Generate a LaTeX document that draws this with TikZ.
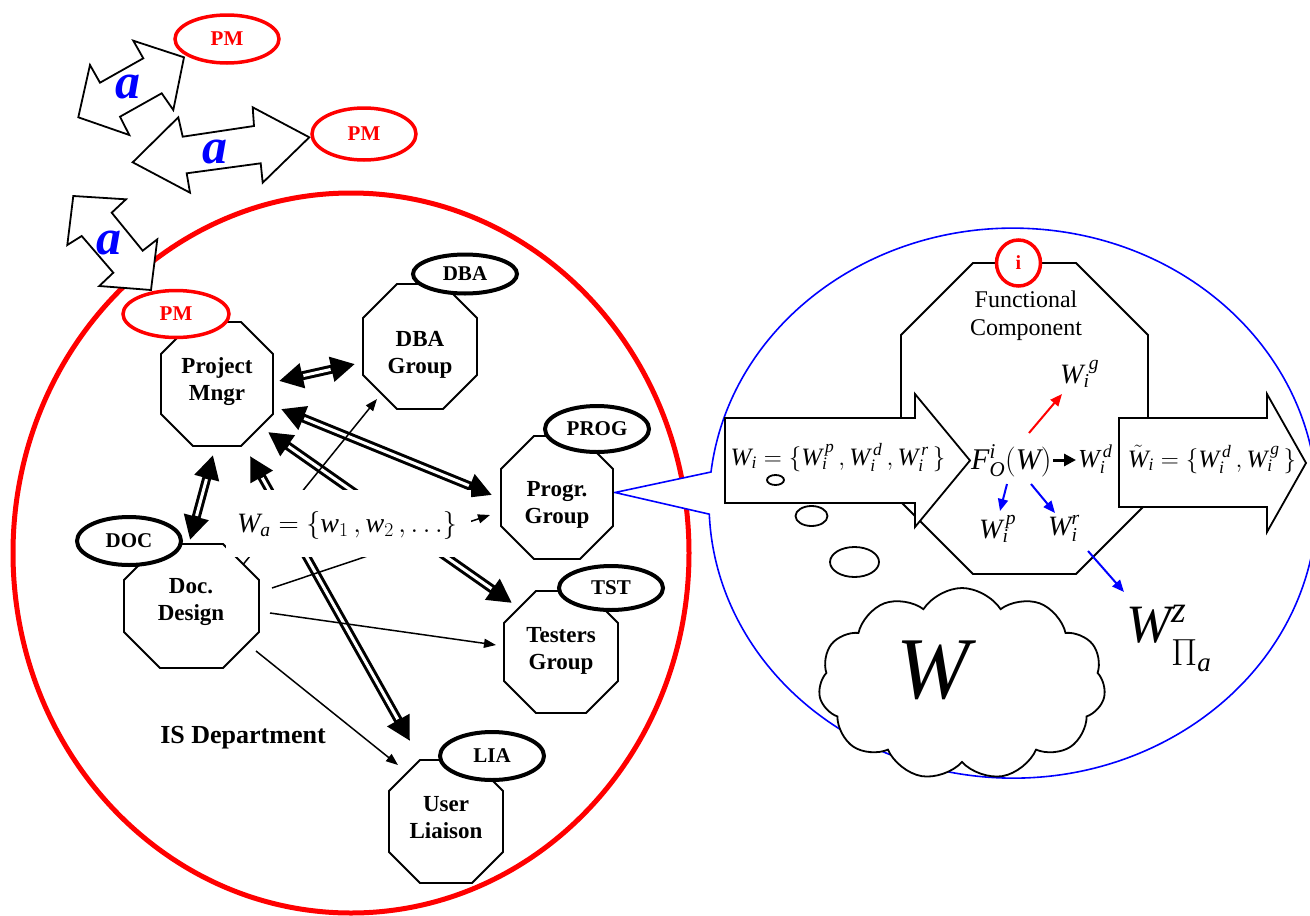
\RequirePackage{fix-cm}
\documentclass[tikz,border=0pt]{standalone}
\usepackage{fontspec}
\setmainfont{Liberation Serif}
\usetikzlibrary{arrows.meta,shapes.geometric,shapes.symbols,calc}
\newcommand\octo[2]{%
  \draw[octline] ([xshift=#2pt]#1.north west) -- ([xshift=-#2pt]#1.north east)
   -- ([yshift=-#2pt]#1.north east) -- ([yshift=#2pt]#1.south east)
   -- ([xshift=-#2pt]#1.south east) -- ([xshift=#2pt]#1.south west)
   -- ([yshift=#2pt]#1.south west) -- ([yshift=-#2pt]#1.north west) -- cycle;}
\newcommand\mW{\mathit{W}}
\newcommand\mii{\mathit{i}}
\begin{document}
\begin{tikzpicture}[x=1pt,y=-1pt,
  octbox/.style={inner sep=0pt,outer sep=0pt,draw=none},
  octline/.style={draw=black,line width=1.8pt,fill=white,line join=miter},
  lbl/.style={font=\bfseries\fontsize{23}{27}\selectfont,align=center,inner sep=0pt},
  tagell/.style={ellipse,draw=black,line width=4pt,fill=white,inner sep=0pt,minimum width=104pt,minimum height=46pt,font=\bfseries\fontsize{21}{24}\selectfont},
  redell/.style={tagell,draw=red,text=red,line width=3.5pt},
  shapeln/.style={draw=black,line width=1.8pt,fill=white,line join=miter},
  alab/.style={font=\bfseries\itshape\fontsize{50}{54}\selectfont,text=blue,inner sep=0pt},
  dbl/.style={line width=9pt,{Triangle[length=24pt,width=24pt]}-{Triangle[length=24pt,width=24pt]},postaction={draw=white,line width=3pt,arrows=-,shorten <=25pt,shorten >=25pt}},
  thinarr/.style={line width=1.5pt,-{Triangle[length=12pt,width=9pt]}},
  carrow/.style={line width=2pt,-{Triangle[length=12pt,width=10pt]}},
  mth/.style={inner sep=0pt},
]
\useasboundingbox (0,0) rectangle (1310,916);
\fill[white] (0,0) rectangle (1310,916);

% invisible boxes of the octagons
\node[octbox,minimum width=112pt,minimum height=124pt] (pm) at (217,384) {};
\node[octbox,minimum width=114pt,minimum height=125pt] (dba) at (420,346.5) {};
\node[octbox,minimum width=112pt,minimum height=123pt] (prog) at (557,497.5) {};
\node[octbox,minimum width=114pt,minimum height=122pt] (tst) at (561,652) {};
\node[octbox,minimum width=135pt,minimum height=124pt] (doc) at (191.5,606) {};
\node[octbox,minimum width=114pt,minimum height=123pt] (lia) at (446,821.5) {};
\node[octbox,minimum width=247pt,minimum height=311pt] (fc) at (1024.5,418.5) {};

% IS department boundary
\draw[red,line width=5pt] (351,553) ellipse[x radius=338,y radius=360];

% callout
\draw[blue,line width=1.6pt,fill=white] (711,472) arc[start angle=186.5,end angle=537.7,x radius=304,y radius=275]
  -- ($(prog.east)+(2,-5)$) -- cycle;

% top-left arrows
\draw[shapeln] (133.3,40.7) -- (143.3,58.3) -- (100,82.7) -- (90,65) -- (78.3,117.3) -- (129.3,135) -- (120,116.7) -- (161.7,93.3) -- (173.3,110) -- (184,57.3) -- cycle;
\node[alab] (a1) at (128,87) {a};
\draw[shapeln] (132.7,162.3) -- (178.3,117.3) -- (182.7,136.7) -- (254,126) -- (252.7,107.3) -- (309.3,137.3) -- (262.7,182.7) -- (260.7,163.3) -- (186.7,173.3) -- (190,192.7) -- cycle;
\node[alab] (a2) at (215,152) {a};
\draw[shapeln] (73.3,196) -- (126,199.3) -- (111.7,212.7) -- (142.7,250.7) -- (157.3,239.3) -- (151,290) -- (99.3,286) -- (113.3,272.7) -- (81.7,236) -- (67.3,245) -- cycle;
\node[alab] (a3) at (109,243) {a};
\node[redell,minimum height=48pt] (pmA) at (227,39) {PM};
\node[redell,minimum height=52pt] (pmB) at (364,134) {PM};

% connectors
\draw[dbl] ($(pm)+(62,-3)$) -- ($(dba)+(-65,17.5)$);
\draw[dbl] ($(pm)+(64,25)$) -- ($(prog)+(-65,-2.5)$);
\draw[dbl] ($(pm)+(-4,71)$) -- ($(doc)+(-1.5,-66)$);
\draw[dbl] ($(pm)+(51,48)$) -- ($(tst)+(-49,-49)$);
\draw[dbl] ($(pm)+(33,72)$) -- ($(lia)+(-36,-80.5)$);
\draw[thinarr] ($(doc)+(52,-42)$) -- ($(dba)+(-43,52.5)$);
\draw[thinarr] ($(doc)+(80.5,-18)$) -- ($(prog)+(-67,17.5)$);
\draw[thinarr] ($(doc)+(78.5,7)$) -- ($(tst)+(-65,-7)$);
\draw[thinarr] ($(doc)+(64.5,45)$) -- ($(lia)+(-48,-56.5)$);

% octagons
\octo{pm}{32}
\octo{dba}{34}
\octo{prog}{33}
\octo{tst}{32}
\octo{doc}{36}
\octo{lia}{31}

% tags
\node[redell,minimum width=106pt,minimum height=47pt] (pmC) at (176,314) {PM};
\node[tagell,minimum height=39pt] (tDBA) at (465,274) {DBA};
\node[tagell] (tPROG) at (597,429) {PROG};
\node[tagell,minimum height=44pt] (tTST) at (611,588) {TST};
\node[tagell,minimum height=48pt] (tDOC) at (129,541) {DOC};
\node[tagell,minimum height=48pt] (tLIA) at (492,756) {LIA};

% labels
\node[lbl] (pmt) at (217,382) {Project\\Mngr};
\node[lbl] (dbat) at (420,355) {DBA\\Group};
\node[lbl] (progt) at (557,505) {Progr.\\Group};
\node[lbl] (tstt) at (561,651) {Testers\\Group};
\node[lbl] (doct) at (191,602) {Doc.\\Design};
\node[lbl] (liat) at (446,818) {User\\Liaison};

\node[fill=white,minimum width=245pt,minimum height=67pt,inner sep=0pt] (wabox) at (348.5,523.5) {};
\node[mth,font=\fontsize{28}{32}\selectfont,anchor=base] (wa) at (347,532)
  {$\mW_{\mathit{a}} = \bigl\{\mathit{w}_{1}\,,\mathit{w}_{2}\,,\ldots\bigr\}$};
\node[font=\bfseries\fontsize{26}{30}\selectfont,inner sep=0pt] (isd) at (243,738) {IS Department};

% functional component
\octo{fc}{72}
\node[redell,minimum width=44pt,minimum height=46pt,font=\bfseries\fontsize{20}{22}\selectfont] (iell) at (1018.5,263) {i};
\node[font=\fontsize{24}{28}\selectfont,align=center,inner sep=0pt] (fct) at (1026,316) {Functional\\Component};

\draw[shapeln] (725,418) -- (915,418) -- (915,394) -- (970,460.5) -- (915,527) -- (915,503) -- (725,503) -- cycle;
\draw[shapeln] (1119,418) -- (1267,418) -- (1267,394) -- (1306,463) -- (1267,532) -- (1267,507) -- (1119,507) -- cycle;

\draw[shapeln] (775.5,480) ellipse[x radius=8.5,y radius=5];
\draw[shapeln] (811.5,516) ellipse[x radius=16,y radius=10];
\draw[shapeln] (854.5,562) ellipse[x radius=24.5,y radius=15];
\node[cloud,cloud puffs=11,cloud puff arc=115,aspect=1.55,draw,fill=white,line width=1.8pt,minimum width=287pt,minimum height=192pt,inner sep=0pt] (cloud) at (962,684) {};
\node[font=\itshape\fontsize{88}{90}\selectfont,inner sep=0pt,anchor=base] (cw) at (933,698) {W};

\node[mth,font=\fontsize{25}{29}\selectfont,anchor=base] (wiset) at (838,465)
  {$\mW_{\mii} = \{\mW_{\mii}^{\,\mathit{p}}\,,\mW_{\mii}^{\,\mathit{d}}\,,\mW_{\mii}^{\,\mathit{r}}\,\}$};
\node[mth,font=\fontsize{30}{34}\selectfont,anchor=base west] (fo) at (971,469)
  {$\mathit{F}^{\mii}_{\mathit{O}}(\mW)$};
\node[mth,font=\fontsize{26}{30}\selectfont,anchor=base west] (wd) at (1078,467) {$\mW_{\mii}^{\,\mathit{d}}$};
\node[mth,font=\fontsize{28}{32}\selectfont,anchor=base west] (wg) at (1060,383) {$\mW_{\mii}^{\;\mathit{g}}$};
\node[mth,font=\fontsize{28}{32}\selectfont,anchor=base west] (wp) at (979,538) {$\mW_{\mii}^{\,\mathit{p}}$};
\node[mth,font=\fontsize{28}{32}\selectfont,anchor=base west] (wr) at (1048,535) {$\mW_{\mii}^{\mathit{r}}$};
\node[mth,font=\fontsize{25}{29}\selectfont,anchor=base] (wtset) at (1212,467)
  {$\tilde{\mW}_{\mii} = \{\mW_{\mii}^{\,\mathit{d}}\,,\mW_{\mii}^{\,\mathit{g}}\,\}$};
\node[mth,font=\fontsize{54}{58}\selectfont,anchor=base west] (wpi) at (1126,642)
  {$\mW^{\mathit{z}}_{\raisebox{-10pt}{$\scriptstyle\Pi_{\mathit{a}}$}}$};

\coordinate (kA) at (1053,460); \coordinate (kB) at (1076,460);
\coordinate (rA) at (1029,433); \coordinate (rB) at (1062,394);
\coordinate (bA) at (1007,484); \coordinate (bB) at (1000,511);
\coordinate (cA) at (1031,484); \coordinate (cB) at (1055,513);
\coordinate (dA) at (1088,551); \coordinate (dB) at (1124,592);
\draw[line width=3pt,-{Triangle[length=12pt,width=12pt]}] (kA) -- (kB);
\draw[carrow,red] (rA) -- (rB);
\draw[carrow,blue] (bA) -- (bB);
\draw[carrow,blue] (cA) -- (cB);
\draw[carrow,blue] (dA) -- (dB);
\end{tikzpicture}
\end{document}
